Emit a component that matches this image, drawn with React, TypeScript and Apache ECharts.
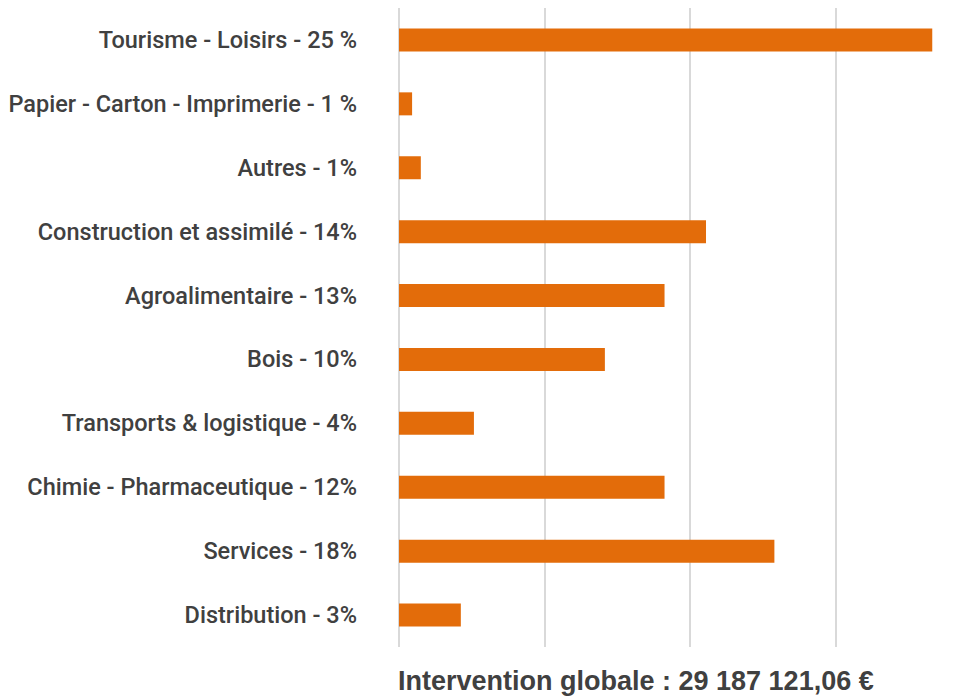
import React, { useEffect, useRef } from "react";
import * as echarts from "echarts";

const categories = [
  "Tourisme - Loisirs - 25 %",
  "Papier - Carton - Imprimerie - 1 %",
  "Autres - 1%",
  "Construction et assimilé - 14%",
  "Agroalimentaire - 13%",
  "Bois - 10%",
  "Transports & logistique - 4%",
  "Chimie - Pharmaceutique - 12%",
  "Services - 18%",
  "Distribution - 3%",
];

const amounts = [7330000, 180000, 300000, 4220000, 3650000, 2830000, 1030000, 3650000, 5160000, 850000];

const axisTicks = { min: 0, max: 8000000, interval: 2000000 };

const titleText = "Intervention globale : 29 187 121,06 €";

export default function App() {
  const ref = useRef<HTMLDivElement>(null);
  useEffect(() => {
    if (!ref.current) return;
    const chart = echarts.init(ref.current, null, { renderer: "svg" });
    chart.setOption({
      animation: false,
      title: {
        text: titleText,
        left: 398,
        top: 667,
        padding: 0,
        textStyle: {
          fontFamily: "'Liberation Sans', Arial, sans-serif",
          fontWeight: "bold",
          fontSize: 27,
          color: "#404040",
        },
      },
      grid: {
        left: 399,
        top: 8,
        width: 582,
        bottom: 50,
        containLabel: false,
        outerBoundsMode: "none",
      },
      xAxis: {
        type: "value",
        min: axisTicks.min,
        max: axisTicks.max,
        interval: axisTicks.interval,
        axisLabel: { show: false },
        axisLine: { show: false },
        axisTick: { show: false },
        splitLine: { show: true, lineStyle: { color: "#d9d9d9", width: 2 } },
      },
      yAxis: {
        type: "category",
        inverse: true,
        data: categories,
        axisLine: { show: false },
        axisTick: { show: false },
        splitLine: { show: false },
        axisLabel: {
          margin: 42,
          fontFamily: "Roboto, 'Liberation Sans', sans-serif",
          fontWeight: 500,
          fontSize: 23.5,
          color: "#404040",
        },
      },
      series: [
        {
          type: "bar",
          data: amounts,
          barWidth: 23,
          itemStyle: { color: "#E36C0A" },
        },
      ],
    });
    return () => chart.dispose();
  }, []);
  return (
    <div
      ref={ref}
      style={{ position: "fixed", left: 0, top: 0, width: 979, height: 697, background: "#fff" }}
    />
  );
}
